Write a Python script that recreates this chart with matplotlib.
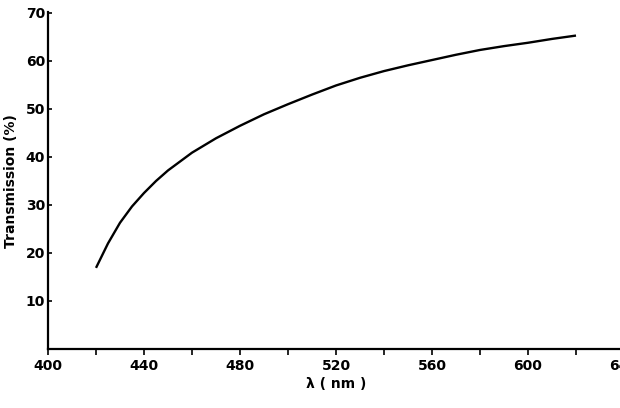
import matplotlib
matplotlib.use("Agg")
import matplotlib.pyplot as plt
from matplotlib.ticker import MultipleLocator

# wavelength (nm) and transmission (%)
wavelength = [420, 425, 430, 435, 440, 445, 450, 460, 470, 480, 490, 500,
              510, 520, 530, 540, 550, 560, 570, 580, 590, 600, 610, 620]
transmission = [16.9, 22.0, 26.3, 29.7, 32.5, 35.0, 37.2, 40.9, 43.9, 46.5,
                48.9, 51.0, 53.0, 54.9, 56.5, 57.9, 59.1, 60.2, 61.3, 62.3,
                63.1, 63.8, 64.6, 65.3]

x_major = [400, 440, 480, 520, 560, 600, 640]
y_major = [10, 20, 30, 40, 50, 60, 70]

plt.rcParams["font.family"] = "DejaVu Sans"

fig = plt.figure(figsize=(6.2, 4.08), dpi=100)
ax = fig.add_axes([48 / 620, 59 / 408, 576 / 620, 336 / 408])

ax.plot(wavelength, transmission, color="black", lw=1.7,
        solid_capstyle="butt", solid_joinstyle="round")

ax.set_xlim(400, 640)
ax.set_ylim(0, 70)
ax.spines["top"].set_visible(False)
ax.spines["right"].set_visible(False)
for s in ("left", "bottom"):
    ax.spines[s].set_linewidth(1.6)
ax.spines["left"].set_bounds(0, 70.3)

ax.set_xticks(x_major)
ax.xaxis.set_minor_locator(MultipleLocator(20))
ax.set_yticks(y_major)
ax.tick_params(axis="x", which="both", direction="out", length=4, width=1.2,
               labelsize=10, pad=3)
ax.tick_params(axis="y", direction="in", length=3, width=1.2,
               labelsize=10, pad=2)
for lab in ax.get_xticklabels() + ax.get_yticklabels():
    lab.set_fontweight("bold")

ax.set_xlabel("λ ( nm )", fontsize=10, fontweight="bold", labelpad=3)
ax.set_ylabel("Transmission (%)", fontsize=10, fontweight="bold", labelpad=6)

fig.savefig("out.png", dpi=100)
